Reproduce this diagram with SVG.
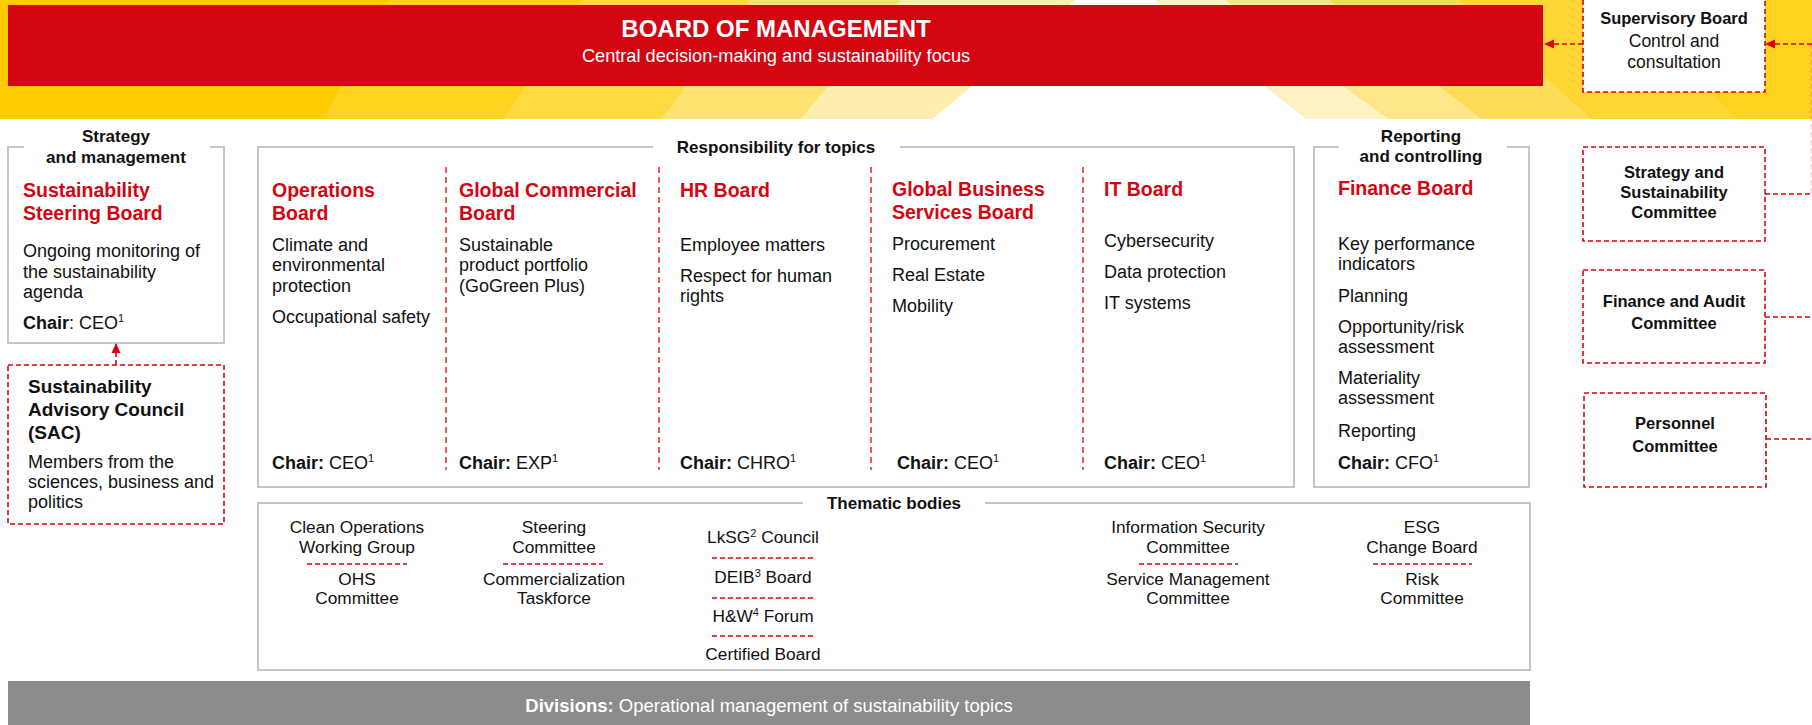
<svg xmlns="http://www.w3.org/2000/svg" width="1812" height="725" viewBox="0 0 1812 725">
<defs>
<style>
text{font-family:"Liberation Sans",Arial,sans-serif;fill:#111;}
.t{font-size:19.5px;font-weight:bold;fill:#D40511;}
.b{font-size:18px;}
.h{font-size:17px;font-weight:bold;}
.bb{font-weight:bold;}
.th{font-size:17.3px;text-anchor:middle;}
.c{font-size:16.5px;font-weight:bold;text-anchor:middle;}
.frame{fill:none;stroke:#C6C6C6;stroke-width:2;}
.dbox{fill:#fff;stroke:#D40511;stroke-width:1.6;stroke-dasharray:5 3;}
.con{fill:none;stroke:#D40511;stroke-width:1.6;stroke-dasharray:5 3;}
.div{stroke:#D40511;stroke-width:1.3;stroke-dasharray:6 4;}
.sep{stroke:#D40511;stroke-width:1.3;stroke-dasharray:5 3;}
.sup{font-size:11px;}
</style>
<marker id="arr" markerWidth="10" markerHeight="10" refX="9" refY="5" orient="auto" markerUnits="userSpaceOnUse">
<path d="M0,0.5 L10,5 L0,9.5 Z" fill="#D40511"/>
</marker>
</defs>

<g id="background">
<rect x="0" y="0" width="1812" height="119" fill="#FFCC00"/>
<polygon points="390,0 582,0 503,119 323,119" fill="#FFD21F"/>
<polygon points="582,0 750,0 661,119 503,119" fill="#FFD940"/>
<polygon points="750,0 900,0 800,119 661,119" fill="#FFE272"/>
<polygon points="900,0 1075,0 932,119 800,119" fill="#FFEEAD"/>
<polygon points="1075,0 1156,0 1307,119 932,119" fill="#FFFFFF"/>
<polygon points="1156,0 1226,0 1389,119 1307,119" fill="#FFF2C4"/>
<polygon points="1226,0 1330,0 1482,119 1389,119" fill="#FFE68A"/>
<polygon points="1330,0 1460,0 1592,119 1482,119" fill="#FFDD58"/>
<polygon points="1460,0 1620,0 1739,119 1592,119" fill="#FFD633"/>
<polygon points="1620,0 1812,0 1812,119 1739,119" fill="#FFD21F"/>
</g>

<g id="board-of-management">
<rect x="8" y="5" width="1535" height="81" fill="#D40511"/>
<text x="776" y="37" text-anchor="middle" style="font-size:24px;font-weight:bold;fill:#fff">BOARD OF MANAGEMENT</text>
<text x="776" y="62" text-anchor="middle" style="font-size:18.2px;fill:#fff">Central decision-making and sustainability focus</text>
</g>

<g id="supervisory-board">
<rect class="dbox" x="1583" y="-1" width="182" height="93"/>
<text class="c" x="1674" y="24">Supervisory Board</text>
<text x="1674" y="47" text-anchor="middle" style="font-size:17.5px">Control and</text>
<text x="1674" y="68" text-anchor="middle" style="font-size:17.5px">consultation</text>
</g>

<g id="strategy-committee">
<rect class="dbox" x="1583" y="147" width="182" height="94"/>
<text class="c" x="1674" y="178">Strategy and</text>
<text class="c" x="1674" y="198">Sustainability</text>
<text class="c" x="1674" y="218">Committee</text>
</g>

<g id="finance-audit-committee">
<rect class="dbox" x="1583" y="270" width="182" height="93"/>
<text class="c" x="1674" y="307">Finance and Audit</text>
<text class="c" x="1674" y="329">Committee</text>
</g>

<g id="personnel-committee">
<rect class="dbox" x="1584" y="393" width="182" height="94"/>
<text class="c" x="1675" y="429">Personnel</text>
<text class="c" x="1675" y="452">Committee</text>
</g>

<g id="sustainability-steering-board">
<path class="frame" d="M24,147 H8 V343 H224 V147 H210"/>
<text class="h" x="116" y="142" text-anchor="middle">Strategy</text>
<text class="h" x="116" y="163" text-anchor="middle">and management</text>
<text class="t" x="23" y="197">Sustainability</text>
<text class="t" x="23" y="220">Steering Board</text>
<text class="b" x="23" y="257">Ongoing monitoring of</text>
<text class="b" x="23" y="278">the sustainability</text>
<text class="b" x="23" y="298">agenda</text>
<text class="b" x="23" y="329"><tspan class="bb">Chair</tspan>: CEO<tspan class="sup" dy="-7">1</tspan></text>
</g>

<g id="sustainability-advisory-council">
<rect class="dbox" x="8" y="365" width="216" height="159"/>
<text x="28" y="393" style="font-size:19px;font-weight:bold">Sustainability</text>
<text x="28" y="416" style="font-size:19px;font-weight:bold">Advisory Council</text>
<text x="28" y="439" style="font-size:19px;font-weight:bold">(SAC)</text>
<text class="b" x="28" y="468">Members from the</text>
<text class="b" x="28" y="488">sciences, business and</text>
<text class="b" x="28" y="508">politics</text>
</g>

<g id="responsibility-for-topics">
<path class="frame" d="M653,147 H258 V487 H1294 V147 H900"/>
<text class="h" x="776" y="153" text-anchor="middle">Responsibility for topics</text>
<line class="div" x1="446" y1="167" x2="446" y2="470"/>
<line class="div" x1="659" y1="167" x2="659" y2="470"/>
<line class="div" x1="871" y1="167" x2="871" y2="470"/>
<line class="div" x1="1083" y1="167" x2="1083" y2="470"/>
</g>

<g id="operations-board">
<text class="t" x="272" y="197">Operations</text>
<text class="t" x="272" y="220">Board</text>
<text class="b" x="272" y="251">Climate and</text>
<text class="b" x="272" y="271">environmental</text>
<text class="b" x="272" y="292">protection</text>
<text class="b" x="272" y="323">Occupational safety</text>
<text class="b" x="272" y="469"><tspan class="bb">Chair:</tspan> CEO<tspan class="sup" dy="-7">1</tspan></text>
</g>

<g id="global-commercial-board">
<text class="t" x="459" y="197">Global Commercial</text>
<text class="t" x="459" y="220">Board</text>
<text class="b" x="459" y="251">Sustainable</text>
<text class="b" x="459" y="271">product portfolio</text>
<text class="b" x="459" y="292">(GoGreen Plus)</text>
<text class="b" x="459" y="469"><tspan class="bb">Chair:</tspan> EXP<tspan class="sup" dy="-7">1</tspan></text>
</g>

<g id="hr-board">
<text class="t" x="680" y="197">HR Board</text>
<text class="b" x="680" y="251">Employee matters</text>
<text class="b" x="680" y="282">Respect for human</text>
<text class="b" x="680" y="302">rights</text>
<text class="b" x="680" y="469"><tspan class="bb">Chair:</tspan> CHRO<tspan class="sup" dy="-7">1</tspan></text>
</g>

<g id="global-business-services-board">
<text class="t" x="892" y="196">Global Business</text>
<text class="t" x="892" y="219">Services Board</text>
<text class="b" x="892" y="250">Procurement</text>
<text class="b" x="892" y="281">Real Estate</text>
<text class="b" x="892" y="312">Mobility</text>
<text class="b" x="897" y="469"><tspan class="bb">Chair:</tspan> CEO<tspan class="sup" dy="-7">1</tspan></text>
</g>

<g id="it-board">
<text class="t" x="1104" y="196">IT Board</text>
<text class="b" x="1104" y="247">Cybersecurity</text>
<text class="b" x="1104" y="278">Data protection</text>
<text class="b" x="1104" y="309">IT systems</text>
<text class="b" x="1104" y="469"><tspan class="bb">Chair:</tspan> CEO<tspan class="sup" dy="-7">1</tspan></text>
</g>

<g id="finance-board">
<path class="frame" d="M1339,147 H1314 V487 H1529 V147 H1507"/>
<text class="h" x="1421" y="142" text-anchor="middle">Reporting</text>
<text class="h" x="1421" y="162" text-anchor="middle">and controlling</text>
<text class="t" x="1338" y="195">Finance Board</text>
<text class="b" x="1338" y="250">Key performance</text>
<text class="b" x="1338" y="270">indicators</text>
<text class="b" x="1338" y="302">Planning</text>
<text class="b" x="1338" y="333">Opportunity/risk</text>
<text class="b" x="1338" y="353">assessment</text>
<text class="b" x="1338" y="384">Materiality</text>
<text class="b" x="1338" y="404">assessment</text>
<text class="b" x="1338" y="437">Reporting</text>
<text class="b" x="1338" y="469"><tspan class="bb">Chair:</tspan> CFO<tspan class="sup" dy="-7">1</tspan></text>
</g>

<g id="thematic-bodies">
<path class="frame" d="M803,503 H258 V670 H1530 V503 H985"/>
<text class="h" x="894" y="509" text-anchor="middle">Thematic bodies</text>
<text class="th" x="357" y="533">Clean Operations</text>
<text class="th" x="357" y="553">Working Group</text>
<line class="sep" x1="307" y1="564" x2="407" y2="564"/>
<text class="th" x="357" y="585">OHS</text>
<text class="th" x="357" y="604">Committee</text>
<text class="th" x="554" y="533">Steering</text>
<text class="th" x="554" y="553">Committee</text>
<line class="sep" x1="503" y1="564" x2="603" y2="564"/>
<text class="th" x="554" y="585">Commercialization</text>
<text class="th" x="554" y="604">Taskforce</text>
<text class="th" x="763" y="543">LkSG<tspan class="sup" dy="-6">2</tspan><tspan dy="6"> Council</tspan></text>
<line class="sep" x1="712" y1="558" x2="814" y2="558"/>
<text class="th" x="763" y="583">DEIB<tspan class="sup" dy="-6">3</tspan><tspan dy="6"> Board</tspan></text>
<line class="sep" x1="712" y1="598" x2="814" y2="598"/>
<text class="th" x="763" y="622">H&amp;W<tspan class="sup" dy="-6">4</tspan><tspan dy="6"> Forum</tspan></text>
<line class="sep" x1="712" y1="636" x2="814" y2="636"/>
<text class="th" x="763" y="660">Certified Board</text>
<text class="th" x="1188" y="533">Information Security</text>
<text class="th" x="1188" y="553">Committee</text>
<line class="sep" x1="1139" y1="564" x2="1238" y2="564"/>
<text class="th" x="1188" y="585">Service Management</text>
<text class="th" x="1188" y="604">Committee</text>
<text class="th" x="1422" y="533">ESG</text>
<text class="th" x="1422" y="553">Change Board</text>
<line class="sep" x1="1373" y1="564" x2="1472" y2="564"/>
<text class="th" x="1422" y="585">Risk</text>
<text class="th" x="1422" y="604">Committee</text>
</g>

<g id="divisions">
<rect x="8" y="681" width="1522" height="50" fill="#8C8C8C"/>
<text x="769" y="712" text-anchor="middle" style="font-size:18.5px;fill:#fff"><tspan style="font-weight:bold;fill:#fff">Divisions:</tspan> Operational management of sustainability topics</text>
</g>

<g id="connectors">
<line class="con" x1="116" y1="365" x2="116" y2="344" marker-end="url(#arr)"/>
<line class="con" x1="1583" y1="44" x2="1545" y2="44" marker-end="url(#arr)"/>
<line class="con" x1="1812" y1="44" x2="1766" y2="44" marker-end="url(#arr)"/>
<line class="con" x1="1811.5" y1="44" x2="1811.5" y2="194" style="opacity:0.2"/>
<line class="con" x1="1765" y1="194" x2="1812" y2="194"/>
<line class="con" x1="1765" y1="317" x2="1812" y2="317"/>
<line class="con" x1="1766" y1="439" x2="1812" y2="439"/>
</g>
</svg>
